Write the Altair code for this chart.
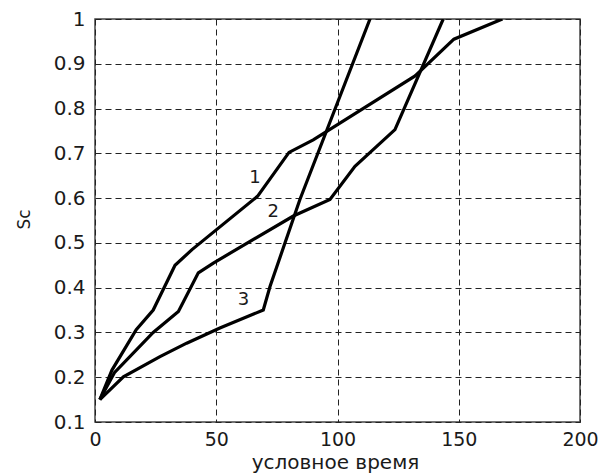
import altair as alt
import pandas as pd

# Curve data
x1 = [2, 7, 17, 24, 33, 40, 67, 80, 90, 132, 148, 168]
y1 = [0.15, 0.216, 0.306, 0.35, 0.45, 0.485, 0.604, 0.702, 0.73, 0.873, 0.955, 1.0]

x2 = [2, 8, 24, 34.4, 42.6, 48.8, 81.8, 96.9, 107.2, 123.7, 143.6]
y2 = [0.15, 0.21, 0.30, 0.347, 0.433, 0.455, 0.56, 0.597, 0.671, 0.753, 1.0]

x3 = [2, 11.7, 26.8, 37.8, 51.5, 69.4, 72.2, 84.5, 113.4]
y3 = [0.15, 0.201, 0.246, 0.276, 0.31, 0.35, 0.403, 0.597, 1.0]

label_text = ["1", "2", "3"]
label_x = [66, 73.5, 61.2]
label_y = [0.645, 0.57, 0.373]

x_ticks = [0, 50, 100, 150, 200]
y_ticks = [0.1, 0.2, 0.3, 0.4, 0.5, 0.6, 0.7, 0.8, 0.9, 1.0]

rows = []
for name, xs, ys in (("1", x1, y1), ("2", x2, y2), ("3", x3, y3)):
    for i, (a, b) in enumerate(zip(xs, ys)):
        rows.append({"series": name, "t": a, "sc": b, "order": i})
df = pd.DataFrame(rows)
labels = pd.DataFrame({"text": label_text, "t": label_x, "sc": label_y})

FONT = "DejaVu Sans"
TXT = "#1a1a1a"

xscale = alt.Scale(domain=[0, 200], nice=False)
yscale = alt.Scale(domain=[0.1, 1.0], nice=False, zero=False)

xaxis = alt.Axis(values=x_ticks, title="условное время", grid=True,
                 gridDash=[6, 4], gridColor="#222222", gridWidth=1,
                 ticks=False, domain=False, labelPadding=8,
                 labelFont=FONT, labelFontSize=19, labelColor=TXT,
                 titleFont=FONT, titleFontSize=20, titleFontWeight="normal",
                 titleColor=TXT, titleY=46, titleBaseline="alphabetic",
                 titleX=240,
                 format="d", labelFlush=False)
yaxis = alt.Axis(values=y_ticks, title="Sc", grid=True,
                 gridDash=[6, 4], gridColor="#222222", gridWidth=1,
                 ticks=False, domain=False, labelPadding=10,
                 labelFont=FONT, labelFontSize=20, labelColor=TXT,
                 titleFont=FONT, titleFontSize=17, titleFontWeight="normal",
                 titleColor=TXT, titleX=-71, titleY=200, titleBaseline="middle",
                 labelExpr="datum.value == 1 ? '1' : format(datum.value, '.1f')",
                 labelFlush=False)

lines = alt.Chart(df).mark_line(color="black", strokeWidth=3.2, clip=True).encode(
    x=alt.X("t:Q", scale=xscale, axis=xaxis),
    y=alt.Y("sc:Q", scale=yscale, axis=yaxis),
    detail="series:N",
    order="order:Q",
)

text = alt.Chart(labels).mark_text(font=FONT, fontSize=18, color=TXT).encode(
    x=alt.X("t:Q", scale=xscale),
    y=alt.Y("sc:Q", scale=yscale),
    text="text:N",
)

chart = (lines + text).properties(
    width=485, height=403,
    padding={"left": 87, "top": 11, "right": 23, "bottom": 60},
    autosize=alt.AutoSizeParams(type="none"),
    background="white",
).configure_view(stroke="#444444", strokeWidth=1.5)

chart.save("out.html", embed_options={"renderer": "svg", "actions": False})
